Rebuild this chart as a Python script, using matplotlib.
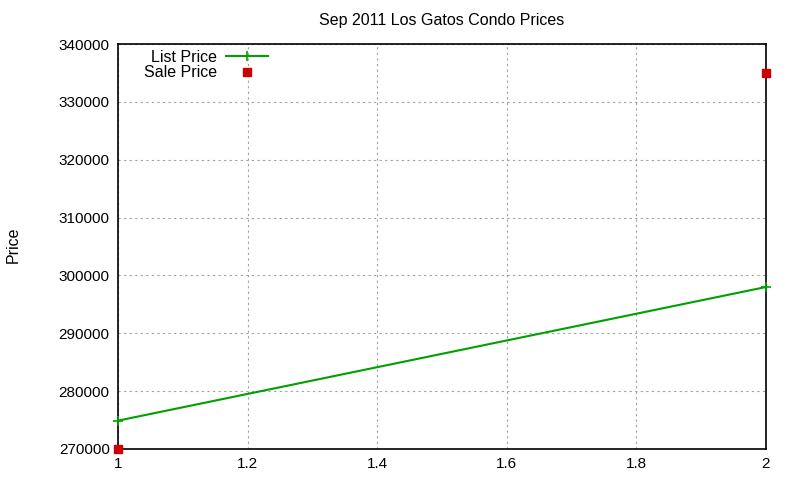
import matplotlib
matplotlib.use("Agg")
import matplotlib.pyplot as plt

plt.rcParams['font.family'] = ['Liberation Sans', 'DejaVu Sans']

x = [1, 2]
list_price = [274900, 298000]
sale_price = [270000, 335000]

fig = plt.figure(figsize=(8, 4.8), dpi=100)
ax = fig.add_axes([0.1475, 0.0646, 0.81, 0.8437])

ax.plot(x, list_price, color='#00a000', lw=1.5, marker='+', ms=7, mew=1.2,
        label='List Price', clip_on=False, zorder=3)
ax.plot(x, sale_price, color='#cc0000', ls='none', marker='s', ms=6,
        label='Sale Price', clip_on=False, zorder=4)

ax.set_xlim(1, 2)
ax.set_ylim(270000, 340000)
ax.set_xticks([1, 1.2, 1.4, 1.6, 1.8, 2])
ax.set_xticklabels(['1', '1.2', '1.4', '1.6', '1.8', '2'])
ax.set_yticks(range(270000, 340001, 10000))
ax.tick_params(direction='in', length=0, labelsize=11, pad=6)
ax.grid(True, color='#a0a0a0', ls=(0, (2, 3)), lw=0.8)
for s in ax.spines.values():
    s.set_linewidth(1.2)

ax.set_title('Sep 2011 Los Gatos Condo Prices', fontsize=11.5, pad=14)
fig.text(0.016, 0.49, 'Price', rotation=90, fontsize=11.5, ha='center', va='center')

leg = ax.legend(loc='upper left', frameon=False, markerfirst=False, fontsize=11.5,
                handlelength=2.6, handletextpad=0.6, borderaxespad=0.2, labelspacing=0.05,
                bbox_to_anchor=(0.025, 1.01))
for t in leg.get_texts():
    t.set_ha('right')

fig.savefig('out.png', dpi=100)
